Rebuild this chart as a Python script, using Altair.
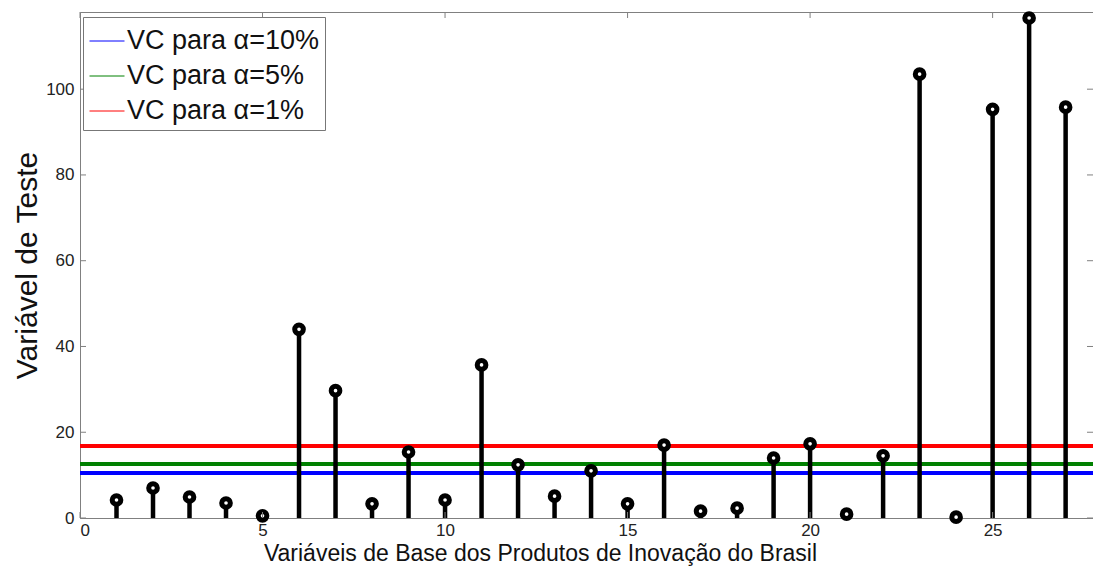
import altair as alt
import pandas as pd

# data
variaveis = list(range(1, 28))
teste = [4.2, 7.0, 4.9, 3.5, 0.5, 44.0, 29.7, 3.3, 15.4, 4.2,
         35.7, 12.4, 5.1, 11.0, 3.3, 17.0, 1.6, 2.3, 14.0, 17.3,
         0.9, 14.5, 103.5, 0.2, 95.3, 116.6, 95.8]
vc_labels = ["VC para α=10%", "VC para α=5%", "VC para α=1%"]
vc_values = [10.5, 12.6, 16.8]
vc_colors = ["#0000ff", "#008000", "#ff0000"]
x_ticks = [0, 5, 10, 15, 20, 25]
y_ticks = [0, 20, 40, 60, 80, 100]

W, H = 1013, 506
FONT = "Liberation Sans"

df = pd.DataFrame({"x": variaveis, "y": teste, "y0": [0] * len(teste)})
vc = pd.DataFrame({"label": vc_labels, "v": vc_values})
xt = pd.DataFrame({"t": x_ticks})
yt = pd.DataFrame({"t": y_ticks})

xs = alt.Scale(domain=[0, 27.75], nice=False, zero=False)
ys = alt.Scale(domain=[0, 118], nice=False)

xaxis = alt.Axis(values=x_ticks, tickSize=0, labelPadding=4, labelFontSize=17,
                 labelColor="#222222", labelFont=FONT, domain=True, domainColor="#808080",
                 grid=False, title="Variáveis de Base dos Produtos de Inovação do Brasil",
                 titleFont=FONT, titleFontSize=23, titleFontWeight="normal",
                 titleColor="#111111", titleX=460, titleY=42, titleAlign="center",
                 titleBaseline="alphabetic")
yaxis = alt.Axis(values=y_ticks, tickSize=0, labelPadding=6, labelFontSize=17,
                 labelColor="#222222", labelFont=FONT, domain=True, domainColor="#808080",
                 grid=False, title="Variável de Teste", titleFont=FONT, titleFontSize=30,
                 titleFontWeight="normal", titleColor="#111111", titleX=-53,
                 titleY=H / 2, titleAlign="center", titleBaseline="middle", titleAngle=270)

hlines = alt.Chart(vc).mark_rule(strokeWidth=4).encode(
    y=alt.Y("v:Q", scale=ys, axis=yaxis),
    color=alt.Color("label:N",
                    scale=alt.Scale(domain=vc_labels, range=vc_colors),
                    legend=alt.Legend(title=None, orient="none", legendX=3, legendY=5,
                                      symbolType="stroke", symbolSize=1225,
                                      symbolStrokeWidth=1, labelFontSize=27,
                                      labelFont=FONT, labelColor="#111111",
                                      labelOffset=2, rowPadding=4,
                                      fillColor="white", strokeColor="#777777",
                                      padding=6, labelLimit=400)),
)

stems = alt.Chart(df).mark_rule(strokeWidth=4.5, color="black").encode(
    x=alt.X("x:Q", scale=xs, axis=xaxis),
    y=alt.Y("y0:Q", scale=ys),
    y2="y:Q",
)

pts = alt.Chart(df).mark_point(shape="circle", size=75, strokeWidth=5,
                               color="black", fill="white", filled=False,
                               opacity=1).encode(
    x=alt.X("x:Q", scale=xs),
    y=alt.Y("y:Q", scale=ys),
)

tick_style = dict(color="#808080", strokeWidth=1)
xt_bottom = alt.Chart(xt).mark_rule(**tick_style).encode(
    x=alt.X("t:Q", scale=xs), y=alt.value(H - 6), y2=alt.value(H))
xt_top = alt.Chart(xt).mark_rule(**tick_style).encode(
    x=alt.X("t:Q", scale=xs), y=alt.value(0), y2=alt.value(6))
yt_left = alt.Chart(yt).mark_rule(**tick_style).encode(
    y=alt.Y("t:Q", scale=ys), x=alt.value(0), x2=alt.value(6))
yt_right = alt.Chart(yt).mark_rule(**tick_style).encode(
    y=alt.Y("t:Q", scale=ys), x=alt.value(W - 6), x2=alt.value(W))

chart = alt.layer(hlines, stems, pts, xt_bottom, xt_top, yt_left, yt_right).properties(
    width=W, height=H,
    autosize=alt.AutoSizeParams(type="none"),
    padding={"left": 80, "top": 12, "right": 0, "bottom": 52},
    background="white",
).configure_view(stroke="#808080", strokeWidth=1)

chart.save("out.html", embed_options={"renderer": "svg", "actions": False})
